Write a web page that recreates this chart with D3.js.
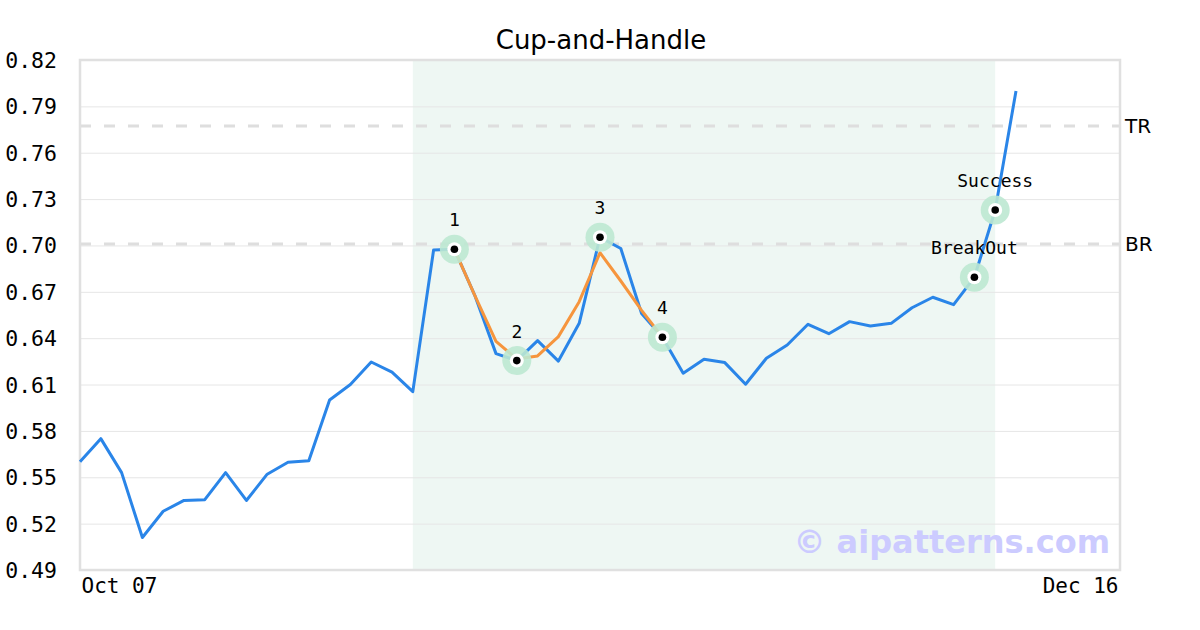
<!DOCTYPE html>
<html>
<head>
<meta charset="utf-8">
<script src="https://cdn.jsdelivr.net/npm/d3@7"></script>
<style>
  html, body { margin: 0; padding: 0; background: #fff; }
  svg { display: block; }
</style>
</head>
<body>
<svg id="chart" width="1200" height="630"></svg>
<script>
// ---- data ----
const title = "Cup-and-Handle";
const prices = [0.560, 0.575, 0.553, 0.511, 0.528, 0.535, 0.5355, 0.553, 0.535, 0.552,
  0.5597, 0.5607, 0.600, 0.610, 0.6246, 0.618, 0.6054, 0.697, 0.6975, 0.667,
  0.630, 0.6255, 0.6384, 0.6252, 0.6496, 0.7053, 0.698, 0.656, 0.6406, 0.6173,
  0.6263, 0.6242, 0.6102, 0.627, 0.6356, 0.649, 0.6429, 0.6507, 0.6479, 0.6496,
  0.6597, 0.6665, 0.6617, 0.6794, 0.7229, 0.800];
const cupStart = 18;
const cupFit = [0.6975, 0.667, 0.638, 0.6265, 0.6285, 0.641, 0.6636, 0.6953, 0.677, 0.658, 0.6406];
const markerIdx = [18, 21, 25, 28, 43, 44];
const markerLabels = ["1", "2", "3", "4", "BreakOut", "Success"];
const levelNames = ["TR", "BR"];
const levelValues = [0.7773, 0.7009];
const shadeRange = [16, 44];
const yTicks = [0.49, 0.52, 0.55, 0.58, 0.61, 0.64, 0.67, 0.70, 0.73, 0.76, 0.79, 0.82];
const xTickIdx = [0, 50];
const xTickLabels = ["Oct 07", "Dec 16"];
const xMax = 50;
const watermark = "© aipatterns.com";

// ---- layout ----
const svg = d3.select("#chart");
const L = 80, R = 1120, T = 60, B = 570;
const x = d3.scaleLinear().domain([0, xMax]).range([L, R]);
const y = d3.scaleLinear().domain([0.49, 0.82]).range([B, T]);
const mono = "'DejaVu Sans Mono', monospace";
const sans = "'DejaVu Sans', sans-serif";

// shaded pattern region
svg.append("rect")
  .attr("x", x(shadeRange[0])).attr("y", T)
  .attr("width", x(shadeRange[1]) - x(shadeRange[0])).attr("height", B - T)
  .attr("fill", "#eef7f3");

// grid
const yAxis = d3.axisLeft(y).tickValues(yTicks).tickFormat(d3.format(".2f"))
  .tickSize(-(R - L)).tickPadding(23);
const gy = svg.append("g").attr("transform", `translate(${L},0)`).call(yAxis);
gy.select(".domain").remove();
gy.selectAll(".tick line").attr("stroke", "#e6e6e6").attr("stroke-width", 1);
gy.selectAll(".tick text").attr("font-family", mono).attr("font-size", 21.5)
  .attr("fill", "#000").attr("dy", "0.35em");

// level lines
levelValues.forEach((v, i) => {
  svg.append("line").attr("x1", L).attr("x2", R).attr("y1", y(v)).attr("y2", y(v))
    .attr("stroke", "#dedede").attr("stroke-width", 3).attr("stroke-dasharray", "11,13");
  svg.append("text").attr("x", R + 5).attr("y", y(v)).attr("dy", "0.35em")
    .attr("font-family", sans).attr("font-size", 20).attr("fill", "#000")
    .text(levelNames[i]);
});

// frame
svg.append("rect").attr("x", L).attr("y", T).attr("width", R - L).attr("height", B - T)
  .attr("fill", "none").attr("stroke", "#e0e0e0").attr("stroke-width", 2.5);

// x axis labels
const xAxis = d3.axisBottom(x).tickValues(xTickIdx)
  .tickFormat((d, i) => xTickLabels[i]).tickSize(0).tickPadding(8);
const gx = svg.append("g").attr("transform", `translate(0,${B})`).call(xAxis);
gx.select(".domain").remove();
gx.selectAll(".tick text").attr("font-family", mono).attr("font-size", 21).attr("fill", "#000")
  .attr("text-anchor", (d, i) => i === 0 ? "start" : "end")
  .attr("dx", (d, i) => i === 0 ? 1 : -2);

// watermark
svg.append("text").attr("x", 1110).attr("y", 553).attr("text-anchor", "end")
  .attr("font-family", sans).attr("font-weight", "bold").attr("font-size", 32)
  .attr("fill", "#cccbff").text(watermark);

// title
svg.append("text").attr("x", 601).attr("y", 49).attr("text-anchor", "middle")
  .attr("font-family", sans).attr("font-size", 26).attr("fill", "#000").text(title);

// price line
const line = d3.line().x((d, i) => x(i)).y(d => y(d));
svg.append("path").datum(prices).attr("d", line)
  .attr("fill", "none").attr("stroke", "#2a85e8").attr("stroke-width", 3)
  .attr("stroke-linejoin", "round");

// cup fit
const line2 = d3.line().x((d, i) => x(cupStart + i)).y(d => y(d));
svg.append("path").datum(cupFit).attr("d", line2)
  .attr("fill", "none").attr("stroke", "#f6953d").attr("stroke-width", 3)
  .attr("stroke-linejoin", "round");

// markers
const mg = svg.append("g").selectAll("g").data(markerIdx).join("g")
  .attr("transform", d => `translate(${x(d)},${y(prices[d])})`);
mg.append("circle").attr("r", 14.5).attr("fill", "#bde8d2").attr("fill-opacity", 0.9);
mg.append("circle").attr("r", 7).attr("fill", "#fff");
mg.append("circle").attr("r", 3.8).attr("fill", "#000");
mg.append("text").attr("y", -23).attr("text-anchor", "middle")
  .attr("font-family", mono).attr("font-size", 18).attr("fill", "#000")
  .text((d, i) => markerLabels[i]);
</script>
</body>
</html>
